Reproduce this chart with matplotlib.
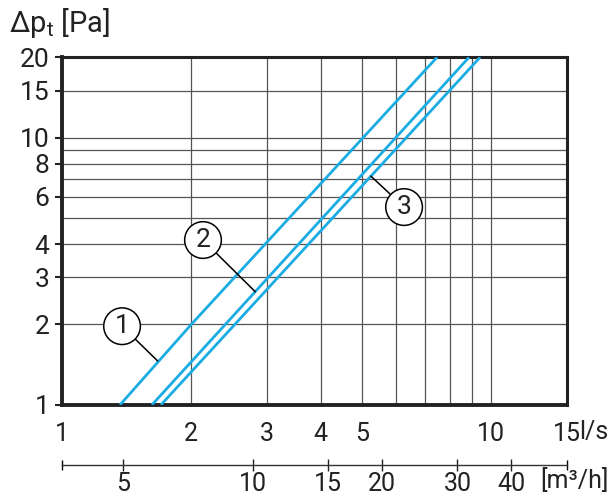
import numpy as np
import matplotlib
matplotlib.use('Agg')
import matplotlib.pyplot as plt
from matplotlib.ticker import FixedLocator, NullFormatter, NullLocator

plt.rcParams['font.family'] = ['Roboto', 'DejaVu Sans']
plt.rcParams['mathtext.fontset'] = 'custom'
plt.rcParams['mathtext.rm'] = 'Roboto'

# Kennlinien (Volumenstrom l/s, Druckverlust Pa)
q1 = [1.365, 2.0, 7.47]
dp1 = [1, 2, 20]
q2 = [1.62, 8.87]
dp2 = [1, 20]
q3 = [1.70, 9.41]
dp3 = [1, 20]

x_ticks = [1, 2, 3, 4, 5, 10, 15]
x_grid = [2, 3, 4, 5, 6, 7, 8, 9, 10]
y_ticks = [1, 2, 3, 4, 6, 8, 10, 15, 20]
y_grid = [2, 3, 4, 5, 6, 7, 8, 9, 10, 15]
m3h_ticks = [5, 10, 15, 20, 30, 40]

# Nummern: Kreis (x, y) und Ende der Hinweislinie
labels = ['1', '2', '3']
label_pos = [(1.38, 1.97), (2.13, 4.14), (6.26, 5.50)]
label_tip = [(1.67, 1.46), (2.82, 2.65), (5.24, 7.18)]

blue = '#1aace3'
ink = '#222222'

fig = plt.figure(figsize=(6.1, 4.98), dpi=100)
ax = fig.add_axes([0.1016, 0.187, 0.828, 0.698])
ax.set_xscale('log')
ax.set_yscale('log')
ax.set_xlim(1, 15)
ax.set_ylim(1, 20)

for g in x_grid:
    ax.axvline(g, color='#555555', lw=0.9, zorder=1)
for g in y_grid:
    ax.axhline(g, color='#555555', lw=0.9, zorder=1)

for q, dp in [(q1, dp1), (q2, dp2), (q3, dp3)]:
    ax.plot(q, dp, color=blue, lw=2.0, zorder=3, solid_capstyle='butt')

for txt, pos, tip in zip(labels, label_pos, label_tip):
    ax.annotate(txt, xy=tip, xytext=pos, fontsize=19, ha='center', va='center', color=ink,
                bbox=dict(boxstyle='circle,pad=0.24', fc='white', ec='black', lw=1.1),
                arrowprops=dict(arrowstyle='-', color='black', lw=1.1, shrinkA=0, shrinkB=0),
                zorder=5)

for s in ax.spines.values():
    s.set_linewidth(2.2)
    s.set_color(ink)
ax.spines['left'].set_linewidth(2.8)
ax.spines['bottom'].set_linewidth(2.8)

ax.xaxis.set_major_locator(FixedLocator(x_ticks))
ax.xaxis.set_minor_locator(NullLocator())
ax.set_xticklabels([str(t) for t in x_ticks])
ax.yaxis.set_major_locator(FixedLocator(y_ticks))
ax.yaxis.set_minor_locator(NullLocator())
ax.set_yticklabels([str(t) for t in y_ticks])
ax.tick_params(axis='y', length=5, width=1.5, pad=4, labelsize=19, colors=ink)
ax.tick_params(axis='x', length=0, pad=12, labelsize=18, colors=ink)

# zweite Skala in m3/h
sec = ax.secondary_xaxis(-0.172, functions=(lambda q: q * 3.6, lambda m: m / 3.6))
sec.set_xscale('log')
sec.xaxis.set_major_locator(FixedLocator(m3h_ticks))
sec.xaxis.set_minor_locator(FixedLocator([3.6, 54]))
sec.xaxis.set_minor_formatter(NullFormatter())
sec.set_xticklabels([str(t) for t in m3h_ticks])
sec.spines['bottom'].set_linewidth(1.0)
sec.spines['bottom'].set_color('#333333')
sec.tick_params(axis='x', which='major', direction='inout', length=9, width=1.0, pad=1,
                labelsize=18, colors=ink)
sec.tick_params(axis='x', which='minor', direction='inout', length=7, width=1.0)

fig.text(0.997, 0.133, 'l/s', fontsize=18, ha='right', va='center', color=ink)
fig.text(0.997, 0.036, '[m\u00b3/h]', fontsize=18, ha='right', va='center', color=ink)
fig.text(0.015, 0.953, '\u0394p$_\\mathregular{t}$ [Pa]', fontsize=21, ha='left', va='center', color=ink)

fig.savefig('out.png', dpi=100)
